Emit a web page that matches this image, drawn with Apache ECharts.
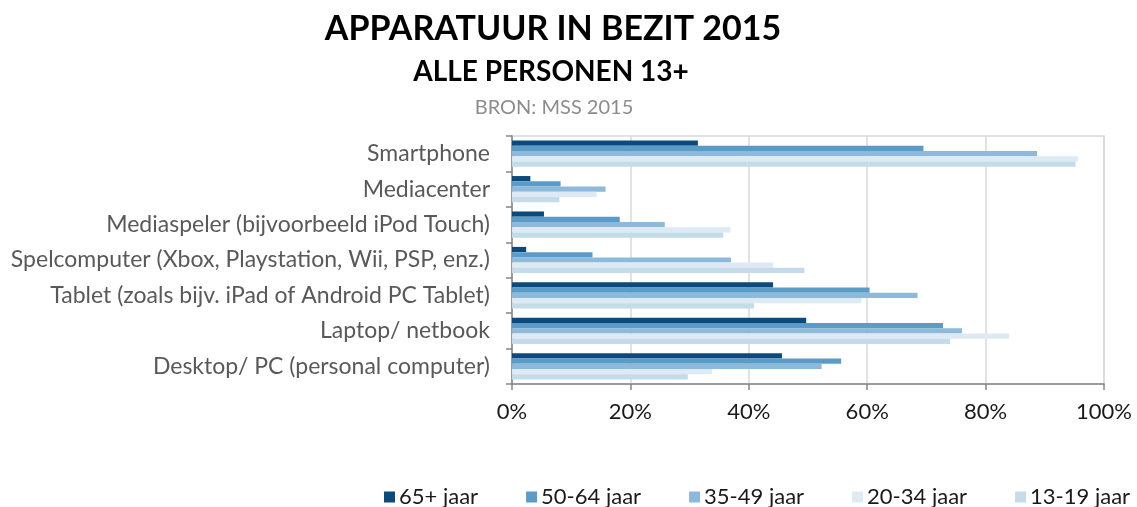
<!DOCTYPE html>
<html>
<head>
<meta charset="utf-8">
<script src="https://cdn.jsdelivr.net/npm/echarts@6/dist/echarts.min.js"></script>
<style>
  html, body { margin: 0; padding: 0; background: #fff; }
  #container { width: 1137px; height: 507px; }
</style>
</head>
<body>
<div id="container"></div>
<script type="text/javascript">
// categories, top to bottom
var categories = [
  'Smartphone',
  'Mediacenter',
  'Mediaspeler (bijvoorbeeld iPod Touch)',
  'Spelcomputer (Xbox, Playstation, Wii, PSP, enz.)',
  'Tablet (zoals bijv. iPad of Android PC Tablet)',
  'Laptop/ netbook',
  'Desktop/ PC (personal computer)'
];
var seriesNames = ['65+ jaar', '50-64 jaar', '35-49 jaar', '20-34 jaar', '13-19 jaar'];
var age65 = [31.4, 3.1, 5.4, 2.4, 44.1, 49.7, 45.6];
var age50 = [69.5, 8.2, 18.2, 13.6, 60.4, 72.8, 55.6];
var age35 = [88.7, 15.8, 25.8, 37.0, 68.5, 76.0, 52.3];
var age20 = [95.6, 14.3, 36.9, 44.1, 59.0, 84.0, 33.8];
var age13 = [95.2, 8.0, 35.7, 49.4, 40.9, 74.0, 29.7];
var xTicks = [0, 20, 40, 60, 80, 100];

var colors = ['#0b4a7a', '#5b9bc8', '#8db9da', '#dde9f3', '#c4dbea'];
var allData = [age65, age50, age35, age20, age13];

var FONT = 'Lato';

var series = [];
for (var i = 0; i < seriesNames.length; i++) {
  series.push({
    name: seriesNames[i],
    type: 'bar',
    data: allData[i],
    barGap: '0%',
    barCategoryGap: '26%',
    itemStyle: { color: colors[i] },
    emphasis: { disabled: true }
  });
}

var mychart = echarts.init(document.getElementById('container'));
var option = {
  animation: false,
  color: colors,
  textStyle: { fontFamily: FONT },
  title: [
    { text: 'APPARATUUR IN BEZIT 2015', left: 548, textAlign: 'center', top: 7,
      textStyle: { fontFamily: FONT, fontSize: 34, fontWeight: 'bold', color: '#000' } },
    { text: 'ALLE PERSONEN 13+', left: 546, textAlign: 'center', top: 53,
      textStyle: { fontFamily: FONT, fontSize: 28, fontWeight: 'bold', color: '#000' } },
    { text: 'BRON: MSS 2015', left: 549, textAlign: 'center', top: 93,
      textStyle: { fontFamily: FONT, fontSize: 20, fontWeight: 'normal', color: '#8c8c8c' } }
  ],
  legend: {
    data: seriesNames,
    left: 379,
    right: 0,
    top: 481,
    itemWidth: 11,
    itemHeight: 11,
    itemGap: 48,
    icon: 'rect',
    textStyle: { fontFamily: FONT, fontSize: 22, color: '#1a1a1a', padding: [0, 0, 0, -1] }
  },
  grid: {
    left: 512, right: 33, top: 136, bottom: 123,
    show: true, borderColor: '#d9d9d9', borderWidth: 1.5,
    containLabel: false
  },
  xAxis: {
    type: 'value',
    min: xTicks[0],
    max: xTicks[xTicks.length - 1],
    interval: 20,
    axisLine: { show: true, lineStyle: { color: '#868686', width: 1.5 } },
    axisTick: { show: true, length: 6, lineStyle: { color: '#868686', width: 1.5 } },
    splitLine: { show: true, lineStyle: { color: '#d9d9d9', width: 1.5 } },
    axisLabel: { formatter: '{value}%', fontFamily: FONT, fontSize: 22, color: '#1a1a1a', margin: 17 }
  },
  yAxis: {
    type: 'category',
    inverse: true,
    data: categories,
    axisLine: { show: true, lineStyle: { color: '#868686', width: 1.5 } },
    axisTick: { show: true, length: 6, lineStyle: { color: '#868686', width: 1.5 } },
    axisLabel: { fontFamily: FONT, fontSize: 23, color: '#595959', margin: 22 }
  },
  series: series
};
mychart.setOption(option);
</script>
</body>
</html>
